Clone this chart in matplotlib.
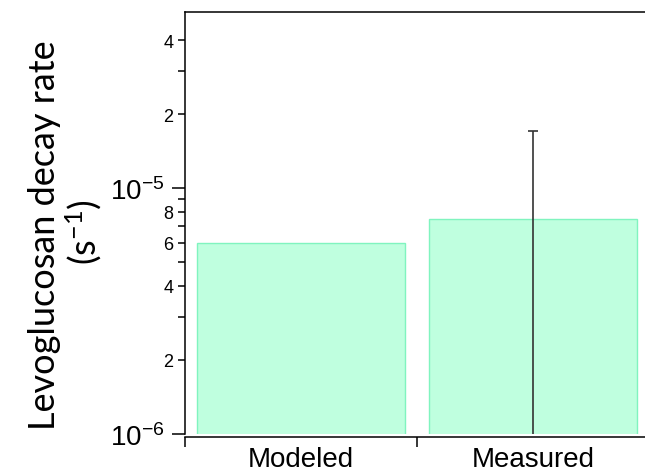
import math
import matplotlib
matplotlib.use("Agg")
import matplotlib.pyplot as plt
from matplotlib.ticker import FixedLocator, FuncFormatter, NullFormatter

plt.rcParams["font.family"] = ["Liberation Sans", "DejaVu Sans"]

# Data
categories = ["Modeled", "Measured"]
decay_rate = [6.0e-6, 7.5e-6]          # s^-1
decay_err = [None, 9.5e-6]             # symmetric uncertainty on the measured value

major_ticks = [1e-6, 1e-5]
minor_ticks = [2e-6, 3e-6, 4e-6, 5e-6, 6e-6, 7e-6, 8e-6, 9e-6, 2e-5, 3e-5, 4e-5]
minor_labeled = {2e-6: "2", 4e-6: "4", 6e-6: "6", 8e-6: "8", 2e-5: "2", 4e-5: "4"}

LABEL_FONT = ["Lato", "DejaVu Sans"]

fig = plt.figure(figsize=(6.45, 4.77), dpi=100)
ax = fig.add_axes([185 / 645, 1 - 435 / 477, 464 / 645, 422 / 477])

x = list(range(len(categories)))
ax.bar(x, decay_rate, width=0.9, bottom=0, color="#bfffdf", edgecolor="#80f4bf",
       linewidth=1.0, zorder=2)

# Error bar only where a measurement uncertainty exists
for xi, v, e in zip(x, decay_rate, decay_err):
    if e is not None:
        ax.errorbar([xi], [v], yerr=[[e], [e]], fmt="none", ecolor="#333333",
                    elinewidth=1.2, capsize=3.3, capthick=1.2, zorder=3)

ax.set_yscale("log")
ax.set_ylim(1e-6, 5.2e-5)
ax.set_xlim(-0.5, 1.5)


def major_fmt(v, pos):
    return r"$\mathregular{10^{%d}}$" % round(math.log10(v))


def minor_fmt(v, pos):
    for k, s in minor_labeled.items():
        if abs(k - v) / k < 1e-6:
            return s
    return ""


ax.yaxis.set_major_locator(FixedLocator(major_ticks))
ax.yaxis.set_major_formatter(FuncFormatter(major_fmt))
ax.yaxis.set_minor_locator(FixedLocator(minor_ticks))
ax.yaxis.set_minor_formatter(FuncFormatter(minor_fmt))

ax.tick_params(axis="y", which="major", direction="out", length=9.5, width=1.1,
               pad=5, labelsize=20, colors="black")
ax.tick_params(axis="y", which="minor", direction="out", length=5.2, width=1.1,
               pad=3, labelsize=13, colors="black")

# Category labels on minor ticks, boundary ticks as majors
ax.xaxis.set_major_locator(FixedLocator([-0.5, 0.5, 1.5]))
ax.xaxis.set_major_formatter(NullFormatter())
ax.xaxis.set_minor_locator(FixedLocator(x))
ax.xaxis.set_minor_formatter(FuncFormatter(lambda v, p: categories[int(round(v))]))
ax.tick_params(axis="x", which="major", direction="out", length=7.5, width=1.1)
ax.tick_params(axis="x", which="minor", length=0, pad=7, labelsize=20)

for s in ["left", "bottom", "top", "right"]:
    ax.spines[s].set_linewidth(1.1)
ax.spines["bottom"].set_position(("outward", 2))

fig.text(45 / 645, 1 - 235 / 477, "Levoglucosan decay rate", rotation=90,
         ha="center", va="center", fontsize=26, fontfamily=LABEL_FONT)
fig.text(84 / 645, 1 - 232 / 477, r"(s$\mathregular{^{-1}}$)", rotation=90,
         ha="center", va="center", fontsize=26, fontfamily=LABEL_FONT)

fig.savefig("out.png", dpi=100)
